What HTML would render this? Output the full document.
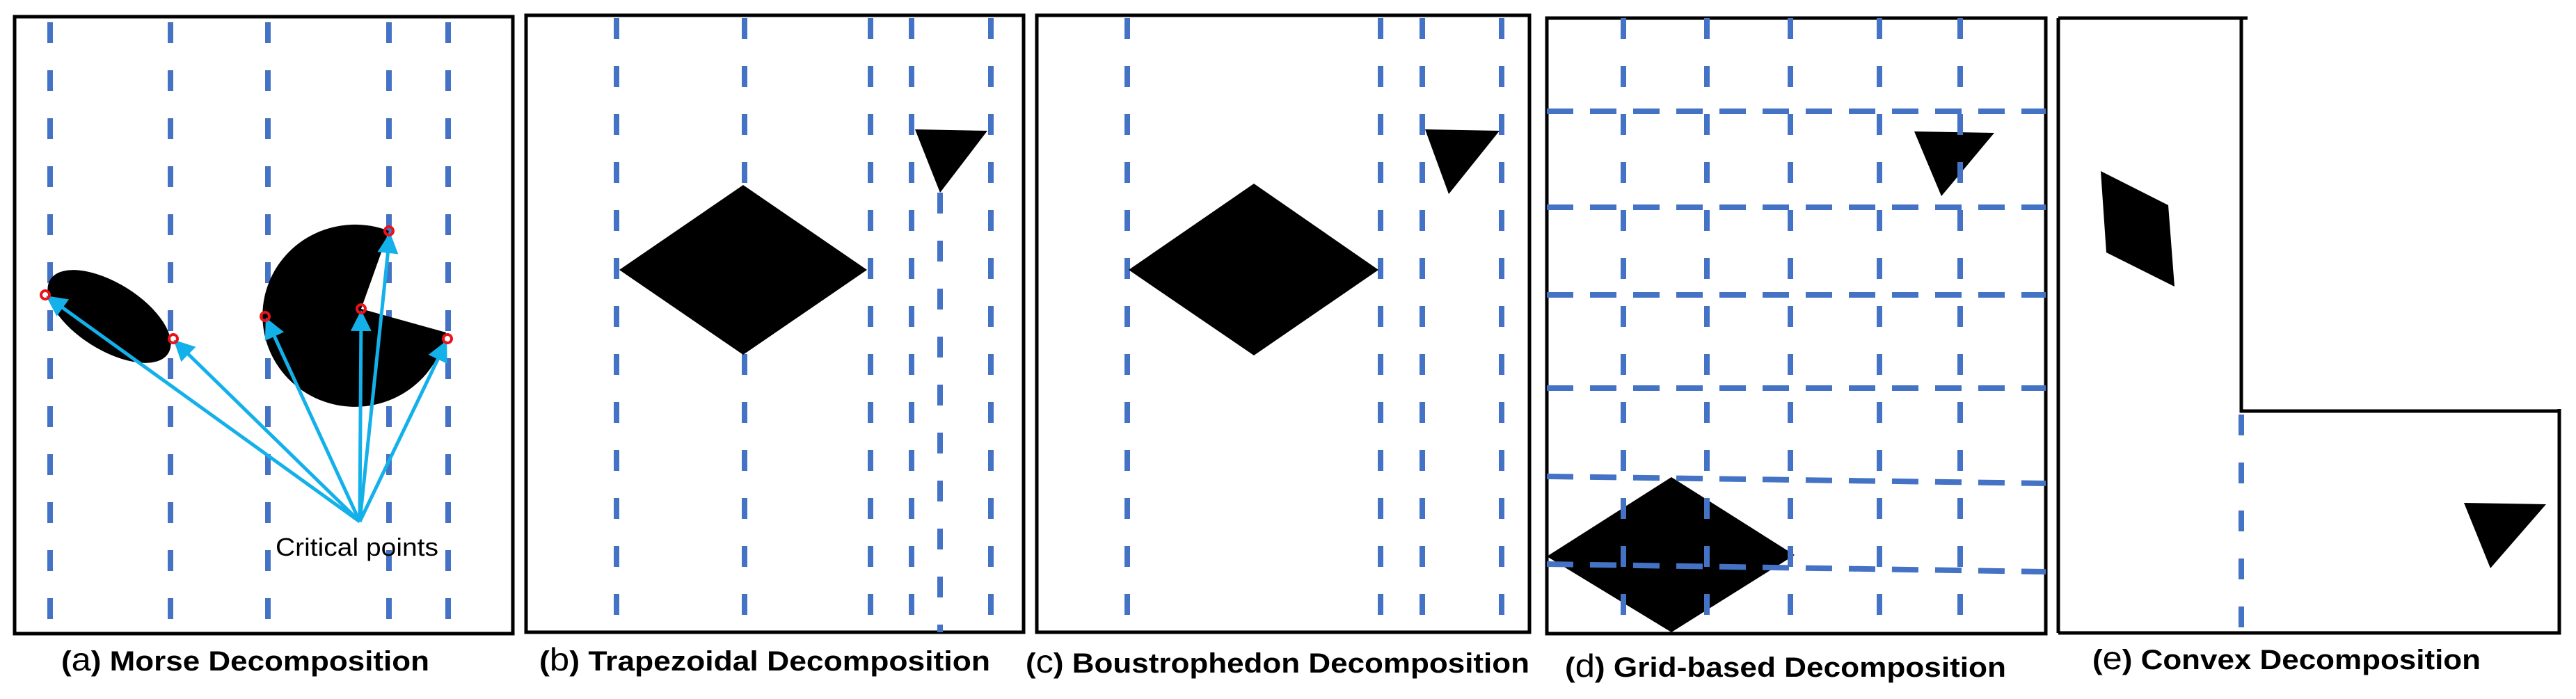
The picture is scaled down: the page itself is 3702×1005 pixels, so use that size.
<!DOCTYPE html>
<html><head><meta charset="utf-8"><style>
html,body{margin:0;padding:0;background:#fff;}
svg{display:block;}
text{font-family:"Liberation Sans",sans-serif;}
</style></head><body>
<svg width="3702" height="1005" viewBox="0 0 3702 1005" xmlns="http://www.w3.org/2000/svg">
<defs>
<marker id="ah" markerWidth="6" markerHeight="6" refX="5" refY="3" orient="auto" markerUnits="strokeWidth">
<path d="M0,0 L6,3 L0,6 Z" fill="#13b0ea"/>
</marker>
</defs>
<g fill="none" stroke="#000" stroke-width="5">
<rect x="21" y="24" width="716" height="887"/>
<rect x="756" y="22" width="715" height="887"/>
<rect x="1490" y="22" width="708" height="887"/>
<rect x="2223" y="26" width="717" height="885"/>
<path d="M2958,26 L3230,26 M3221,26 L3221,591 L3678,591 M3678,588 L3678,910 L2958,910 M2958,26 L2958,910"/>
</g>
<g stroke="#4472c4" stroke-width="8" stroke-dasharray="30 39" fill="none">
<path d="M72,32V891 M245,32V891 M385,32V891 M559,32V891 M644,32V891"/>
<path d="M886,26V891 M1070,26V891 M1251,26V891 M1310,26V891 M1424,26V891 M1351,277V909"/>
<path d="M1620,26V891 M1984,26V891 M2044,26V891 M2158,26V891"/>
<path d="M3221,596V907"/>
</g>
<ellipse cx="157" cy="455" rx="100" ry="48" transform="rotate(32 157 455)" fill="#000"/>
<path d="M519,444 L641,478 A133,131 0 1 1 559,332 Z" fill="#000"/>
<g stroke="#13b0ea" stroke-width="5" marker-end="url(#ah)">
<line x1="517" y1="750" x2="70" y2="428"/>
<line x1="517" y1="750" x2="253" y2="492"/>
<line x1="517" y1="750" x2="384" y2="461"/>
<line x1="517" y1="750" x2="519" y2="451"/>
<line x1="517" y1="750" x2="560" y2="339"/>
<line x1="517" y1="750" x2="640" y2="494"/>
</g>
<g fill="none" stroke="#e8141a" stroke-width="4">
<circle cx="65" cy="424" r="6"/><circle cx="249" cy="487" r="6"/><circle cx="381" cy="455" r="6"/>
<circle cx="519" cy="444" r="6"/><circle cx="559" cy="332" r="6"/><circle cx="643" cy="487" r="6"/>
</g>
<text x="396" y="799" font-size="36" textLength="234" lengthAdjust="spacingAndGlyphs">Critical points</text>
<polygon points="890,388 1068,266 1246,388 1068,510" fill="#000"/>
<polygon points="1315,186 1419,188 1351,277" fill="#000"/>
<polygon points="1622,388 1802,264 1981,388 1802,511" fill="#000"/>
<polygon points="2048,186 2155,188 2082,279" fill="#000"/>
<polygon points="2751,189 2866,191 2790,282" fill="#000"/>
<polygon points="2223,800 2402,686 2579,798 2402,909" fill="#000"/>
<g stroke="#4472c4" stroke-width="8" fill="none">
<path stroke-dasharray="30 39" d="M2333,26V891 M2453,26V891 M2573,26V891 M2701,26V891 M2817,26V891"/>
<path stroke-dasharray="38 24" d="M2223,160H2940 M2223,298H2940 M2223,424H2940 M2223,558H2940 M2223,685L2940,695 M2223,811L2940,822"/>
</g>
<polygon points="3019,246 3116,295 3125,412 3027,363" fill="#000"/>
<polygon points="3541,723 3659,725 3579,817" fill="#000"/>
<g font-weight="bold" font-size="40" fill="#000">
<text x="88" y="964" textLength="529" lengthAdjust="spacingAndGlyphs">(<tspan font-size="46" font-weight="normal">a</tspan>) Morse Decomposition</text>
<text x="775" y="964" textLength="648" lengthAdjust="spacingAndGlyphs">(<tspan font-size="46" font-weight="normal">b</tspan>) Trapezoidal Decomposition</text>
<text x="1474" y="967" textLength="724" lengthAdjust="spacingAndGlyphs">(<tspan font-size="46" font-weight="normal">c</tspan>) Boustrophedon Decomposition</text>
<text x="2249" y="973" textLength="634" lengthAdjust="spacingAndGlyphs">(<tspan font-size="46" font-weight="normal">d</tspan>) Grid-based Decomposition</text>
<text x="3007" y="962" textLength="558" lengthAdjust="spacingAndGlyphs">(<tspan font-size="46" font-weight="normal">e</tspan>) Convex Decomposition</text>
</g>
</svg>
</body></html>
